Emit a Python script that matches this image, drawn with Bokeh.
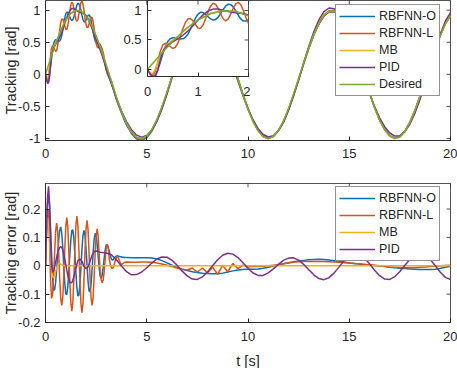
import numpy as np
from bokeh.plotting import figure
from bokeh.models import Range1d, FixedTicker, NumeralTickFormatter, Legend, LegendItem, GridBox
from bokeh.embed import file_html
from bokeh.resources import INLINE

# ---------------- data ----------------
series_names = ["RBFNN-O", "RBFNN-L", "MB", "PID", "Desired"]
x_ticks = [0, 5, 10, 15, 20]
y_ticks_top = [-1, -0.5, 0, 0.5, 1]
y_ticks_bot = [-0.2, -0.1, 0, 0.1, 0.2]
inset_x_ticks = [0, 1, 2]
inset_y_ticks = [0, 0.5, 1]

# sample grids
t_fast = np.round(np.arange(0, 3.901, 0.05), 2)      # 0 .. 3.9
t_slow = np.round(np.arange(4.0, 20.001, 0.25), 2)   # 4 .. 20
t_rbf = np.concatenate([t_fast, t_slow])
t_des = np.round(np.arange(0, 20.001, 0.25), 2)
t_pid = np.concatenate([np.round(np.arange(0, 1.001, 0.05), 2),
                        np.round(np.arange(1.1, 3.001, 0.1), 2),
                        np.round(np.arange(3.25, 20.001, 0.25), 2)])
t_mb_err = np.concatenate([np.round(np.arange(0, 1.001, 0.05), 2), [20.0]])
t_mb_trk = np.concatenate([np.round(np.arange(0, 1.001, 0.05), 2),
                           np.round(np.arange(1.25, 20.001, 0.25), 2)])

desired = [0, 0.247, 0.479, 0.682, 0.841, 0.949, 0.997, 0.984, 0.909, 0.778, 0.598, 0.382, 0.141,
           -0.108, -0.351, -0.572, -0.757, -0.895, -0.978, -0.999, -0.959, -0.859, -0.706, -0.508,
           -0.279, -0.033, 0.215, 0.45, 0.657, 0.823, 0.938, 0.995, 0.989, 0.923, 0.798, 0.624, 0.412,
           0.174, -0.075, -0.319, -0.544, -0.735, -0.88, -0.971, -1.0, -0.967, -0.875, -0.729, -0.537,
           -0.31, -0.066, 0.182, 0.42, 0.631, 0.804, 0.927, 0.991, 0.994, 0.935, 0.818, 0.65, 0.441,
           0.206, -0.041, -0.288, -0.516, -0.712, -0.862, -0.961, -0.999, -0.976, -0.891, -0.751,
           -0.564, -0.342, -0.099, 0.15, 0.393, 0.608, 0.79, 0.913]

# RBFNN-O
err_o = [0, 0.12, 0.22, 0.248, 0.213, 0.136, 0.042, -0.04, -0.086, -0.085,
         -0.059, -0.014, 0.04, 0.089, 0.124, 0.137, 0.118, 0.068, 0.002, -0.059,
         -0.098, -0.102, -0.075, -0.024, 0.037, 0.091, 0.124, 0.127, 0.097, 0.042,
         -0.022, -0.077, -0.107, -0.103, -0.066, -0.006, 0.058, 0.107, 0.125, 0.108,
         0.063, 0.003, -0.054, -0.089, -0.092, -0.064, -0.013, 0.045, 0.092, 0.114,
         0.107, 0.078, 0.035, -0.008, -0.037, -0.045, -0.032, -0.005, 0.028, 0.057,
         0.074, 0.073, 0.065, 0.051, 0.036, 0.024, 0.02, 0.022, 0.027, 0.032,
         0.034, 0.035, 0.034, 0.033, 0.032, 0.031, 0.03, 0.03, 0.029,
         0.029, 0.028, 0.028, 0.028, 0.028, 0.027, 0.024, 0.018, 0.01, 0.002,
         -0.006, -0.012, -0.017, -0.021, -0.024, -0.026, -0.027, -0.028, -0.028, -0.026,
         -0.022, -0.018, -0.015, -0.013, -0.012, -0.012, -0.011, -0.009, -0.005, -0.001,
         0.003, 0.007, 0.011, 0.014, 0.017, 0.019, 0.021, 0.022, 0.023, 0.022,
         0.02, 0.018, 0.015, 0.013, 0.01, 0.008, 0.006, 0.004, 0.003, 0.001,
         -0.001, -0.003, -0.005, -0.007, -0.009, -0.01, -0.011, -0.012, -0.013, -0.013,
         -0.013, -0.012, -0.009, -0.005, -0.002]
trk_o = [0, -0.07, -0.12, -0.099, -0.014, 0.111, 0.254, 0.383, 0.475, 0.52,
         0.538, 0.537, 0.525, 0.516, 0.52, 0.545, 0.599, 0.683, 0.781, 0.872,
         0.94, 0.969, 0.966, 0.937, 0.895, 0.858, 0.84, 0.849, 0.888, 0.951,
         1.02, 1.077, 1.107, 1.1, 1.058, 0.99, 0.916, 0.854, 0.821, 0.821,
         0.846, 0.884, 0.917, 0.926, 0.901, 0.842, 0.759, 0.667, 0.584, 0.524,
         0.492, 0.48, 0.481, 0.48, 0.464, 0.427, 0.367, 0.293, 0.211, 0.133,
         0.067, 0.019, -0.023, -0.059, -0.094, -0.132, -0.178, -0.229, -0.283, -0.336,
         -0.385, -0.432, -0.477, -0.52, -0.562, -0.603, -0.642, -0.681, -0.717,
         -0.786, -0.923, -1.006, -1.027, -0.987, -0.886, -0.73, -0.526, -0.289, -0.035,
         0.221, 0.462, 0.674, 0.844, 0.962, 1.021, 1.016, 0.951, 0.826, 0.65,
         0.434, 0.192, -0.06, -0.306, -0.532, -0.723, -0.869, -0.962, -0.995, -0.966,
         -0.878, -0.736, -0.548, -0.324, -0.083, 0.163, 0.399, 0.609, 0.781, 0.905,
         0.971, 0.976, 0.92, 0.805, 0.64, 0.433, 0.2, -0.045, -0.291, -0.517,
         -0.711, -0.859, -0.956, -0.992, -0.967, -0.881, -0.74, -0.552, -0.329, -0.086,
         0.163, 0.405, 0.617, 0.795, 0.915]

# RBFNN-L
err_l = [0, 0.13, 0.2, 0.19, 0.09, -0.05, -0.115, -0.1, -0.04, 0.046,
         0.121, 0.15, 0.121, 0.046, -0.043, -0.113, -0.14, -0.113, -0.043, 0.053,
         0.138, 0.17, 0.138, 0.053, -0.049, -0.129, -0.16, -0.129, -0.049, 0.054,
         0.142, 0.175, 0.142, 0.054, -0.051, -0.133, -0.165, -0.133, -0.051, 0.049,
         0.129, 0.16, 0.129, 0.049, -0.043, -0.113, -0.14, -0.113, -0.043, 0.04,
         0.105, 0.13, 0.105, 0.04, -0.019, -0.049, -0.06, -0.049, -0.019, 0.023,
         0.061, 0.075, 0.061, 0.023, 0.005, -0.006, -0.01, -0.006, 0.006, 0.02,
         0.029, 0.032, 0.027, 0.017, 0.009, 0.005, 0.006, 0.009, 0.012,
         0.013, 0.012, 0.012, 0.013, 0.013, 0.012, 0.01, 0.006, 0.002, -0.003,
         -0.008, -0.012, -0.015, -0.008, -0.022, -0.008, -0.025, -0.005, -0.03, 0.002,
         -0.022, 0.008, -0.01, 0.002, -0.004, -0.002, -0.003, -0.002, 0.0, 0.002,
         0.004, 0.007, 0.01, 0.012, 0.014, 0.015, 0.015, 0.015, 0.015, 0.015,
         0.014, 0.013, 0.012, 0.011, 0.01, 0.008, 0.007, 0.005, 0.004, 0.002,
         0.0, -0.002, -0.004, -0.005, -0.006, -0.007, -0.007, -0.006, -0.005, -0.004,
         -0.003, -0.002, 0.0, 0.001, 0.002]
trk_l = [0, -0.08, -0.1, -0.041, 0.109, 0.297, 0.411, 0.443, 0.429, 0.389,
         0.358, 0.373, 0.444, 0.559, 0.687, 0.795, 0.857, 0.864, 0.826, 0.76,
         0.704, 0.697, 0.753, 0.86, 0.981, 1.078, 1.124, 1.105, 1.034, 0.939,
         0.856, 0.825, 0.858, 0.943, 1.043, 1.117, 1.139, 1.094, 0.997, 0.88,
         0.78, 0.727, 0.734, 0.788, 0.852, 0.891, 0.886, 0.825, 0.719, 0.598,
         0.494, 0.428, 0.411, 0.432, 0.446, 0.431, 0.395, 0.337, 0.258, 0.167,
         0.08, 0.017, -0.019, -0.031, -0.063, -0.102, -0.148, -0.201, -0.262, -0.324,
         -0.38, -0.429, -0.47, -0.504, -0.539, -0.577, -0.618, -0.66, -0.7,
         -0.77, -0.907, -0.99, -1.012, -0.972, -0.871, -0.716, -0.514, -0.281, -0.03,
         0.223, 0.462, 0.672, 0.831, 0.96, 1.003, 1.014, 0.928, 0.828, 0.622,
         0.434, 0.166, -0.065, -0.321, -0.54, -0.733, -0.877, -0.969, -1.0, -0.969,
         -0.879, -0.736, -0.547, -0.322, -0.08, 0.167, 0.405, 0.616, 0.789, 0.912,
         0.977, 0.981, 0.923, 0.807, 0.64, 0.433, 0.199, -0.046, -0.292, -0.518,
         -0.712, -0.86, -0.957, -0.994, -0.97, -0.884, -0.744, -0.558, -0.337, -0.095,
         0.153, 0.395, 0.608, 0.789, 0.911]

# MB
err_mb = [0, 0.11, 0.17, 0.15, 0.09, 0.03, -0.015, -0.038, -0.042, -0.035, -0.02, -0.007,
          0.002, 0.006, 0.008, 0.006, 0.004, 0.002, 0.001, 0.0, 0.0, 0.0]
trk_mb = [0, -0.06, -0.07, -0.001, 0.109, 0.217, 0.311, 0.381, 0.431, 0.47, 0.499, 0.53,
          0.563, 0.599, 0.636, 0.676, 0.713, 0.749, 0.782, 0.813, 0.841,
          0.949, 0.997, 0.984, 0.909, 0.778, 0.598, 0.382, 0.141, -0.108, -0.351, -0.572, -0.757,
          -0.895, -0.978, -0.999, -0.959, -0.859, -0.706, -0.508, -0.279, -0.033, 0.215, 0.45,
          0.657, 0.823, 0.938, 0.995, 0.989, 0.923, 0.798, 0.624, 0.412, 0.174, -0.075, -0.319,
          -0.544, -0.735, -0.88, -0.971, -1.0, -0.967, -0.875, -0.729, -0.537, -0.31, -0.066,
          0.182, 0.42, 0.631, 0.804, 0.927, 0.991, 0.994, 0.935, 0.818, 0.65, 0.441, 0.206,
          -0.041, -0.288, -0.516, -0.712, -0.862, -0.961, -0.999, -0.976, -0.891, -0.751,
          -0.564, -0.342, -0.099, 0.15, 0.393, 0.608, 0.79, 0.913]

# PID
err_pid = [0, 0.12, 0.24, 0.28, 0.22, 0.09, 0.0, -0.022, -0.02, -0.005, 0.013, 0.03, 0.045,
           0.057, 0.064, 0.067, 0.065, 0.057, 0.043, 0.025, 0.005,
           -0.035, -0.059, -0.06, -0.04, -0.008, 0.018, 0.024, 0.016, -0.002, -0.01,
           -0.004, 0.016, 0.037, 0.05, 0.052, 0.05, 0.048, 0.047, 0.046, 0.045,
           0.039, 0.021, -0.001, -0.021, -0.032, -0.031, -0.022, -0.007, 0.0095, 0.024,
           0.031, 0.03, 0.019, 0.002, -0.019, -0.036, -0.047, -0.048, -0.039, -0.022,
           0.0, 0.021, 0.037, 0.044, 0.041, 0.029, 0.0105, -0.009, -0.0255, -0.034,
           -0.034, -0.025, -0.011, 0.005, 0.019, 0.027, 0.028, 0.02, 0.005, -0.014,
           -0.032, -0.045, -0.049, -0.042, -0.026, -0.004, 0.019, 0.036, 0.044, 0.04,
           0.027, 0.007, -0.016, -0.035, -0.047, -0.048, -0.038, -0.02, 0.002, 0.023,
           0.038, 0.044, 0.038, 0.022, 0.0, -0.023, -0.041, -0.049]
trk_pid = [0, -0.07, -0.14, -0.131, -0.021, 0.157, 0.296, 0.365, 0.409, 0.44, 0.466, 0.493,
           0.52, 0.548, 0.58, 0.615, 0.652, 0.694, 0.74, 0.788, 0.837,
           0.926, 0.991, 1.024, 1.025, 1.006, 0.982, 0.968, 0.958, 0.948, 0.919,
           0.867, 0.793, 0.709, 0.626, 0.547, 0.466, 0.379, 0.288, 0.193, 0.096,
           -0.147, -0.372, -0.571, -0.736, -0.863, -0.947, -0.977, -0.952, -0.869, -0.73,
           -0.539, -0.309, -0.052, 0.213, 0.469, 0.693, 0.87, 0.986, 1.034, 1.011,
           0.923, 0.777, 0.587, 0.368, 0.133, -0.104, -0.33, -0.535, -0.71, -0.846,
           -0.937, -0.975, -0.956, -0.88, -0.748, -0.564, -0.338, -0.086, 0.177, 0.434,
           0.663, 0.849, 0.976, 1.033, 1.02, 0.939, 0.799, 0.614, 0.397, 0.166,
           -0.068, -0.295, -0.5, -0.677, -0.815, -0.913, -0.961, -0.956, -0.893, -0.774,
           -0.602, -0.386, -0.137, 0.128, 0.393, 0.631, 0.831, 0.962]

# ---------------- styling ----------------
COLORS = ["#0072BD", "#D95319", "#EDB120", "#7E2F8E", "#77AC30"]
AX = "#262626"
FONT = "Liberation Sans"
LW = 1.5


def style_axes(p, xt, yt, xr, yr, xlabel=None, ylabel=None, xs=8, ys=5, xls=9, yls=-4):
    p.xgrid.visible = False
    p.ygrid.visible = False
    p.outline_line_color = AX
    p.outline_line_width = 0.8
    for ax, ticks in ((p.xaxis[0], xt), (p.yaxis[0], yt)):
        ax.ticker = FixedTicker(ticks=ticks)
        ax.formatter = NumeralTickFormatter(format="0.[0]")
        ax.major_tick_in = 4
        ax.major_tick_out = 0
        ax.minor_tick_line_color = None
        ax.axis_line_color = AX
        ax.axis_line_width = 0.8
        ax.major_tick_line_color = AX
        ax.major_label_text_font = FONT
        ax.major_label_text_font_size = "13px"
        ax.major_label_text_color = AX
        ax.axis_label_text_font = FONT
        ax.axis_label_text_font_size = "14.5px"
        ax.axis_label_text_font_style = "normal"
        ax.axis_label_text_color = AX
    p.xaxis[0].major_label_standoff = xs
    p.yaxis[0].major_label_standoff = ys
    p.xaxis[0].axis_label_standoff = xls
    p.yaxis[0].axis_label_standoff = yls
    if xlabel:
        p.xaxis[0].axis_label = xlabel
    if ylabel:
        p.yaxis[0].axis_label = ylabel
    # mirrored inward ticks on the top and right edges (half of each dash is clipped away)
    p.scatter(x=xt, y=[yr[1]] * len(xt), marker="dash", angle=np.pi / 2, size=8,
              line_color=AX, line_width=0.8)
    p.scatter(x=[xr[1]] * len(yt), y=yt, marker="dash", size=8,
              line_color=AX, line_width=0.8)


def make_legend(p, renderers, names, loc):
    items = [LegendItem(label=n, renderers=[r]) for n, r in zip(names, renderers)]
    lg = Legend(items=items, location=loc, margin=0,
                label_text_font=FONT, label_text_font_size="12.5px", label_text_color=AX,
                glyph_width=36, glyph_height=16, label_height=16, label_standoff=4,
                padding=3, spacing=1, border_line_color=AX, border_line_width=0.8,
                background_fill_color="white", background_fill_alpha=1.0)
    p.add_layout(lg)


top_xr, top_yr = (0, 20), (-1.03, 1.15)
bot_xr, bot_yr = (0, 20), (-0.2, 0.29)
in_xr, in_yr = (0, 2), (-0.12, 1.17)

# ---------------- top: tracking ----------------
p_top = figure(x_range=Range1d(*top_xr), y_range=Range1d(*top_yr),
               frame_width=405, frame_height=140, min_border_left=45, min_border_right=7,
               min_border_top=0, min_border_bottom=42,
               output_backend="svg", toolbar_location=None)
style_axes(p_top, x_ticks, y_ticks_top, top_xr, top_yr, ylabel="Tracking [rad]")
top_data = [(t_rbf, trk_o), (t_rbf, trk_l), (t_mb_trk, trk_mb), (t_pid, trk_pid), (t_des, desired)]
top_r = [p_top.line(x, y, line_color=c, line_width=LW) for (x, y), c in zip(top_data, COLORS)]
make_legend(p_top, top_r, series_names, (290, 44))

# ---------------- bottom: tracking error ----------------
p_bot = figure(x_range=Range1d(*bot_xr), y_range=Range1d(*bot_yr),
               frame_width=405, frame_height=139, min_border_left=45, min_border_right=7,
               min_border_top=1, min_border_bottom=46,
               output_backend="svg", toolbar_location=None)
style_axes(p_bot, x_ticks, y_ticks_bot, bot_xr, bot_yr, xlabel="t [s]",
           ylabel="Tracking error [rad]", xs=9, xls=9)
bot_data = [(t_rbf, err_o), (t_rbf, err_l), (t_mb_err, err_mb), (t_pid, err_pid)]
bot_r = [p_bot.line(x, y, line_color=c, line_width=LW) for (x, y), c in zip(bot_data, COLORS[:4])]
make_legend(p_bot, bot_r, series_names[:4], (290, 61))

# ---------------- inset (zoom of first 2 s) ----------------
p_in = figure(x_range=Range1d(*in_xr), y_range=Range1d(*in_yr),
              frame_width=101, frame_height=76, min_border_left=45, min_border_right=2,
              min_border_top=0, min_border_bottom=50,
              output_backend="svg", toolbar_location=None,
              border_fill_color=None, background_fill_color="white")
style_axes(p_in, inset_x_ticks, inset_y_ticks, in_xr, in_yr, xs=10, ys=6, yls=0)
for (x, y), c in zip(top_data, COLORS):
    p_in.line(x, y, line_color=c, line_width=LW)
p_in.margin = (0, 0, 0, 102)

root = GridBox(children=[(p_top, 0, 0), (p_bot, 1, 0), (p_in, 0, 0)])

open("out.html", "w").write(file_html(root, INLINE))
